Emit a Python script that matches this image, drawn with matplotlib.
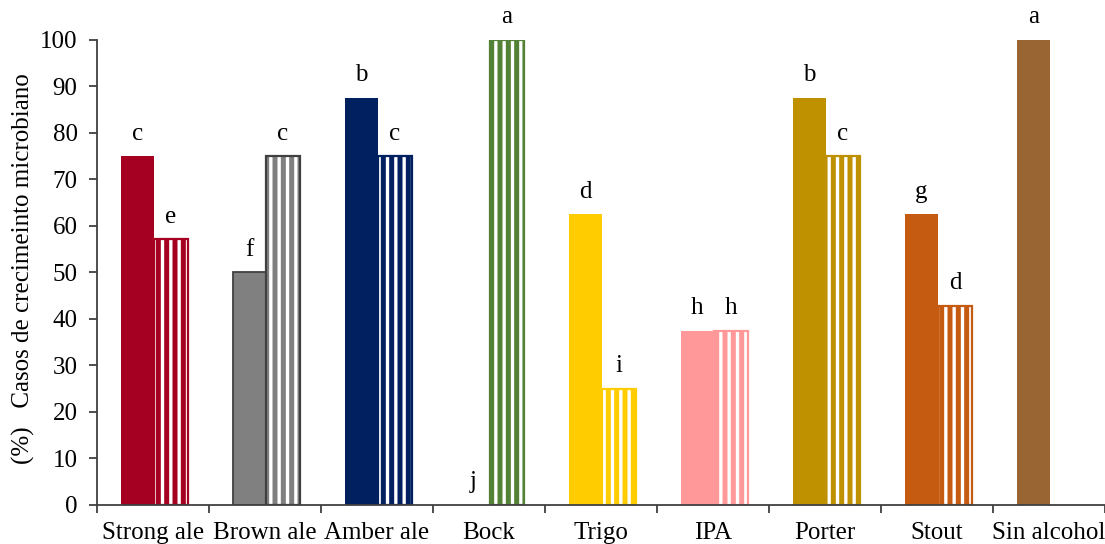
import matplotlib
matplotlib.use("Agg")
import matplotlib.pyplot as plt
import numpy as np

plt.rcParams['font.family'] = ['Liberation Serif', 'DejaVu Serif']
plt.rcParams['hatch.linewidth'] = 2.4

beers = ['Strong ale', 'Brown ale', 'Amber ale', 'Bock', 'Trigo', 'IPA',
         'Porter', 'Stout', 'Sin alcohol']
solid_vals = [75.0, 50.0, 87.5, 0.0, 62.5, 37.5, 87.5, 62.5, 100.0]
striped_vals = [57.1, 75.0, 75.0, 100.0, 25.0, 37.5, 75.0, 42.9, None]
solid_letters = ['c', 'f', 'b', 'j', 'd', 'h', 'b', 'g', 'a']
striped_letters = ['e', 'c', 'c', 'a', 'i', 'h', 'c', 'd', None]
colors = ['#A50021', '#808080', '#002060', '#538135', '#FFCC00', '#FF9999',
          '#BF9000', '#C55A11', '#996633']
edges = ['#A50021', '#404040', '#002060', '#538135', '#FFCC00', '#FF9999',
         '#BF9000', '#C55A11', '#996633']

fs = 18
fig = plt.figure(figsize=(11.05, 5.44), dpi=100)
ax = fig.add_axes([0.0878, 0.0717, 0.9122, 0.8548])

x = np.arange(len(beers))
w = 0.3
x_solid = x - 0.14
x_striped = x + 0.16

for i in range(len(beers)):
    ax.bar(x_solid[i], solid_vals[i], width=w, color=colors[i],
           edgecolor=edges[i], linewidth=1.3 if edges[i] != colors[i] else 0)
    ax.text(x_solid[i], solid_vals[i] + 2.5, solid_letters[i], ha='center',
            va='bottom', fontsize=fs, clip_on=False)
    if striped_vals[i] is None:
        continue
    # coloured fill, white vertical stripes, then the outline on top
    ax.bar(x_striped[i], striped_vals[i], width=w, color=colors[i], linewidth=0)
    ax.bar(x_striped[i], striped_vals[i], width=w, facecolor='none',
           edgecolor='white', hatch='||', linewidth=0)
    ax.bar(x_striped[i], striped_vals[i], width=w, facecolor='none',
           edgecolor=edges[i], linewidth=1.6)
    ax.text(x_striped[i], striped_vals[i] + 2.5, striped_letters[i],
            ha='center', va='bottom', fontsize=fs, clip_on=False)

ax.set_xlim(-0.5, len(beers) - 0.5)
ax.set_ylim(0, 100)
ax.set_yticks(range(0, 101, 10))
ax.set_xticks(np.arange(len(beers) + 1) - 0.5)
ax.set_xticklabels([])
ax.set_xticks(x, minor=True)
ax.set_xticklabels(beers, minor=True)
ax.tick_params(axis='x', which='minor', length=0, pad=12, labelsize=fs)
ax.tick_params(axis='x', which='major', length=6, width=1.3, color='#404040')
ax.tick_params(axis='y', length=6, width=1.3, color='#404040', labelsize=fs, pad=8)

for side in ['top', 'right']:
    ax.spines[side].set_visible(False)
for side in ['left', 'bottom']:
    ax.spines[side].set_color('#404040')
    ax.spines[side].set_linewidth(1.3)

fig.text(0.021, 0.506, '(%)   Casos de crecimeinto microbiano', fontsize=fs,
         rotation=90, ha='center', va='center')

fig.savefig('out.png', dpi=100)
